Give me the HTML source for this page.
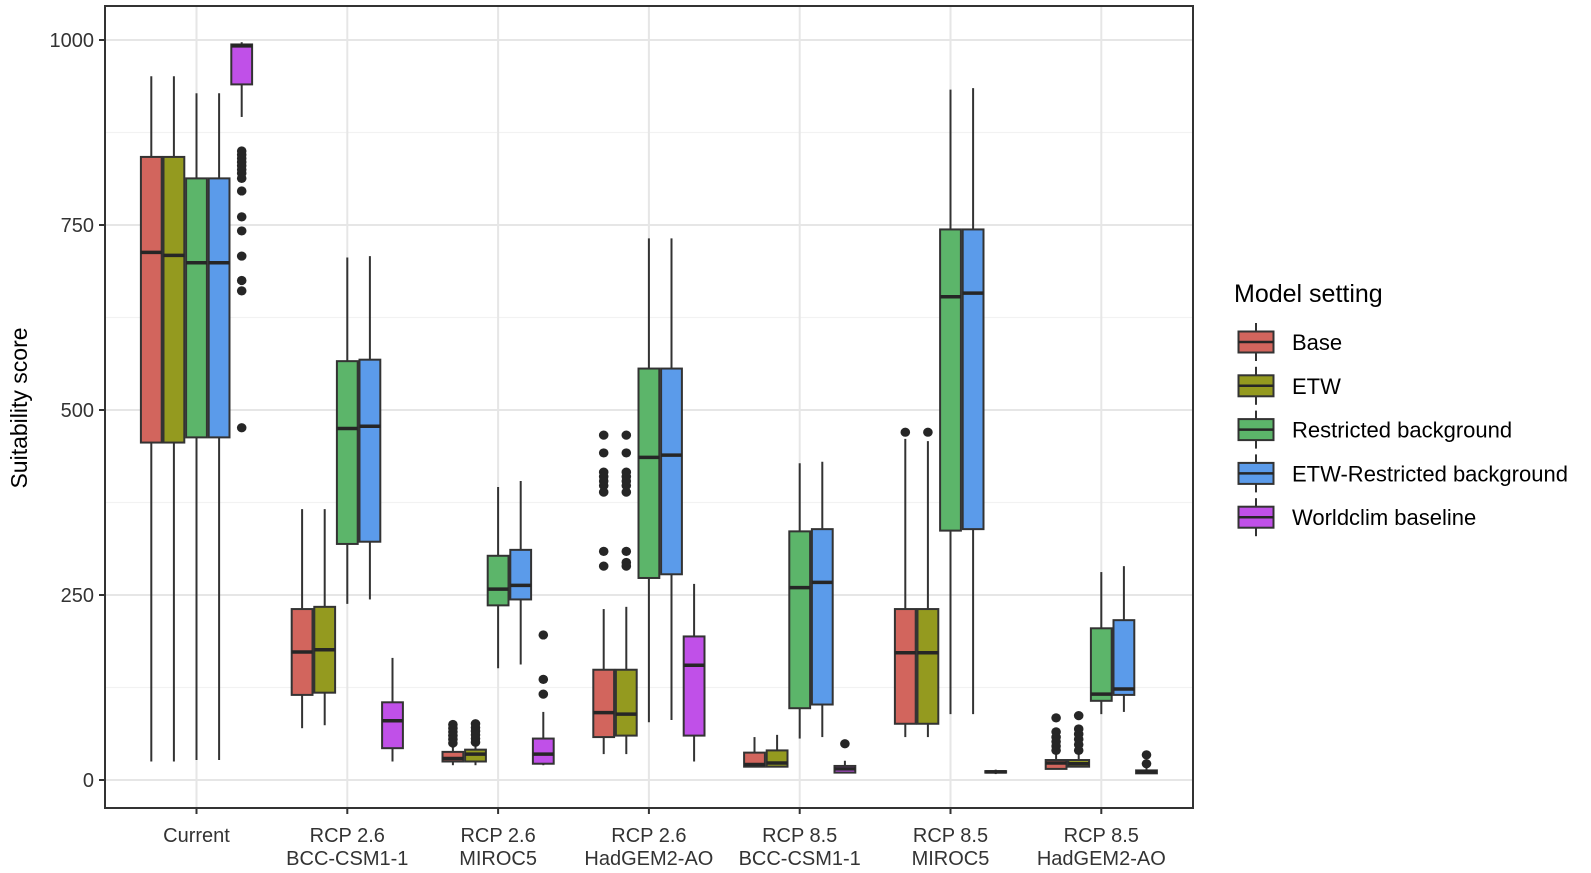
<!DOCTYPE html>
<html><head><meta charset="utf-8"><style>
html,body{margin:0;padding:0;background:#fff;}
svg{display:block;font-family:"Liberation Sans",Arial,sans-serif;}
</style></head><body>
<svg id="chart" width="1591" height="873" viewBox="0 0 1591 873"></svg>
<script>
const categories = [["Current"],["RCP 2.6","BCC-CSM1-1"],["RCP 2.6","MIROC5"],["RCP 2.6","HadGEM2-AO"],["RCP 8.5","BCC-CSM1-1"],["RCP 8.5","MIROC5"],["RCP 8.5","HadGEM2-AO"]];
const seriesNames = ["Base","ETW","Restricted background","ETW-Restricted background","Worldclim baseline"];
const seriesColors = ["#D2655D","#949A1F","#5CB56A","#5B9BEA","#C050E8"];
const yTicks = [0,250,500,750,1000];
const yMinor = [125,375,625,875];
// [category][series]
const whiskerLow = [
 [25,25,27,27,896],[70,74,238,244,25],[20,20,151,156,20],[35,35,78,81,25],[18,18,56,58,10],[58,58,89,89,8],[15,18,89,92,9]];
const q1 = [
 [456,456,463,463,940],[115,118,319,322,43],[25,25,236,244,22],[58,60,273,278,60],[18,18,97,102,10],[76,76,337,339,10],[15,18,107,115,9]];
const median = [
 [713,709,699,699,992],[173,176,475,478,80],[29,35,258,263,35],[91,89,436,439,155],[21,23,260,267,15],[172,172,653,658,11],[23,22,116,123,11]];
const q3 = [
 [842,842,813,813,994],[231,234,566,568,105],[38,41,303,311,56],[149,149,556,556,194],[37,40,336,339,19],[231,231,744,744,12],[27,27,205,216,13]];
const whiskerHigh = [
 [951,951,928,928,997],[366,366,706,708,165],[44,46,396,404,92],[231,234,732,732,265],[58,61,428,430,26],[461,458,933,935,14],[37,40,281,289,18]];
const outliers = [
 [[],[],[],[],[850,845,840,835,830,825,820,813,796,761,742,708,675,661,476]],
 [[],[],[],[],[]],
 [[75,70,65,60,55,50],[76,71,66,61,56,51],[],[],[196,136,116]],
 [[466,442,416,410,404,398,389,309,289],[466,442,416,410,404,398,389,309,294,289],[],[],[]],
 [[],[],[],[],[49]],
 [[470],[470],[],[],[]],
 [[84,65,58,52,46,40],[87,69,62,55,48,40],[],[],[34,22]]
];

const NS="http://www.w3.org/2000/svg";
const svg=document.getElementById('chart');
const P={l:105,r:1193,t:6,b:808};
function y(v){return 780 - v*0.74;}
function xc(i){return 196.5+150.8*i;}
const slot=22.6, bw=20.8;
function xs(i,s){return xc(i)+(s-2)*slot;}
function mk(tag,attrs,parent){const e=document.createElementNS(NS,tag);for(const k in attrs)e.setAttribute(k,attrs[k]);(parent||svg).appendChild(e);return e;}

const panel=mk('rect',{x:P.l,y:P.t,width:P.r-P.l,height:P.b-P.t,fill:'#fff'});


const grid=mk('g',{});


yMinor.forEach(v=>{mk('line',{x1:P.l,x2:P.r,y1:y(v),y2:y(v),stroke:'#f2f2f2','stroke-width':1.2},grid);});
yTicks.forEach(v=>{mk('line',{x1:P.l,x2:P.r,y1:y(v),y2:y(v),stroke:'#e6e6e6','stroke-width':2},grid);});
categories.forEach((c,i)=>{mk('line',{x1:xc(i),x2:xc(i),y1:P.t,y2:P.b,stroke:'#e6e6e6','stroke-width':2},grid);});

categories.forEach((c,i)=>{
 seriesNames.forEach((s,j)=>{
  const g=mk('g',{});
  
  
  const x=xs(i,j);
  mk('line',{x1:x,x2:x,y1:y(whiskerHigh[i][j]),y2:y(q3[i][j]),stroke:'#333','stroke-width':2},g);
  mk('line',{x1:x,x2:x,y1:y(q1[i][j]),y2:y(whiskerLow[i][j]),stroke:'#333','stroke-width':2},g);
  const top=y(q3[i][j]), bot=y(q1[i][j]);
  mk('rect',{x:x-bw/2,y:top,width:bw,height:Math.max(bot-top,1.5),fill:seriesColors[j],stroke:'#333','stroke-width':2},g);
  mk('line',{x1:x-bw/2,x2:x+bw/2,y1:y(median[i][j]),y2:y(median[i][j]),stroke:'#262626','stroke-width':3.5},g);
  outliers[i][j].forEach(v=>{
   const o=mk('ellipse',{cx:x,cy:y(v),rx:4.8,ry:4.6,fill:'#262626'},g);
   
   
  });
 });
});

const border=mk('rect',{x:P.l,y:P.t,width:P.r-P.l,height:P.b-P.t,fill:'none',stroke:'#333','stroke-width':2});



const ya=mk('g',{});


yTicks.forEach(v=>{
 mk('line',{x1:P.l-6,x2:P.l,y1:y(v),y2:y(v),stroke:'#333','stroke-width':2},ya);
 const t=mk('text',{x:P.l-11,y:y(v)+7,'text-anchor':'end','font-size':20,fill:'#333'},ya);
 t.textContent=v;
 
 
});
const yt=mk('text',{x:0,y:0,transform:'translate(27,408) rotate(-90)','text-anchor':'middle','font-size':23,fill:'#000'});
yt.textContent='Suitability score';



const xa=mk('g',{});


categories.forEach((c,i)=>{
 mk('line',{x1:xc(i),x2:xc(i),y1:P.b,y2:P.b+6,stroke:'#333','stroke-width':2},xa);
 c.forEach((line,k)=>{
  const t=mk('text',{x:xc(i),y:842+k*23,'text-anchor':'middle','font-size':20,fill:'#333'},xa);
  t.textContent=line;
  
  
 });
});

const lg=mk('g',{});


const lt=mk('text',{x:1234,y:302,'font-size':25,fill:'#000'},lg);
lt.textContent='Model setting';


seriesNames.forEach((s,j)=>{
 const e=mk('g',{},lg);
 
 
 const cy=342+j*43.8;
 mk('line',{x1:1256,x2:1256,y1:cy-19,y2:cy+19,stroke:'#333','stroke-width':2},e);
 mk('rect',{x:1238.5,y:cy-10.5,width:35,height:21,fill:seriesColors[j],stroke:'#333','stroke-width':2},e);
 mk('line',{x1:1238.5,x2:1273.5,y1:cy,y2:cy,stroke:'#262626','stroke-width':2.5},e);
 const t=mk('text',{x:1292,y:cy+8,'font-size':22,fill:'#000'},e);
 t.textContent=s;
});
</script>
</body></html>
